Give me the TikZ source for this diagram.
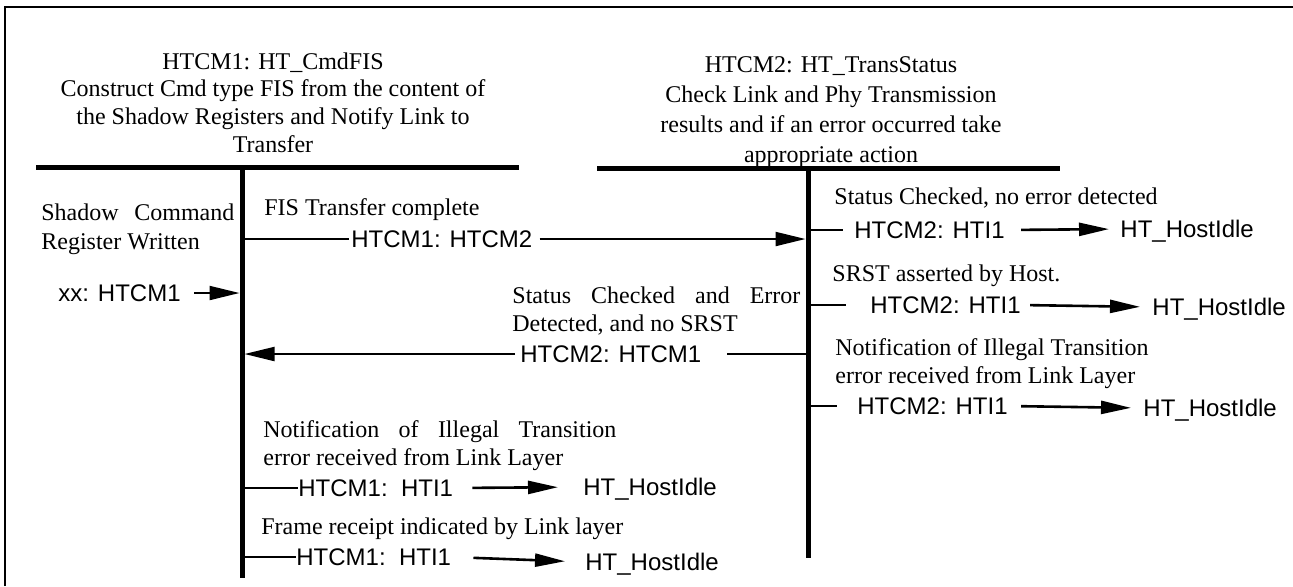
\documentclass[tikz,border=0pt]{standalone}
\usepackage{fontspec}
\setmainfont{Liberation Serif}
\setsansfont{Liberation Sans}
\usetikzlibrary{arrows.meta, calc}
\definecolor{darkline}{HTML}{000000}
\tikzset{
  txt/.style={inner sep=0pt, anchor=west, font=\fontsize{12}{13.8}\selectfont},
  jtxt/.style={txt, align=justify},
  ltxt/.style={txt, align=left},
  title/.style={inner sep=0pt, align=center, font=\fontsize{12}{13.8}\selectfont},
  lbl/.style={inner sep=0pt, anchor=west, font=\sffamily\fontsize{12}{14}\selectfont,
              text height=8.6pt, text depth=0pt},
  frame/.style={line width=1pt, draw=darkline},
  bar/.style={line width=2.5pt, draw=darkline},
  stub/.style={line width=1pt, draw=darkline},
  flow/.style={-{Triangle[length=15pt, width=7pt]}, line width=1pt, draw=darkline},
  exit/.style={-{Triangle[length=15pt, width=6.5pt]}, line width=1.3pt, draw=darkline},
}

\begin{document}
\begin{tikzpicture}[x=0.5pt, y=-0.5pt]
\useasboundingbox (0,0) rectangle (1293,586);

% Outer frame (runs off the page at right and bottom)
\draw[frame] (5,586) -- (5,7) -- (1293,7);

% State headers
\node[title] (titleL) at (273,102.5) {HTCM1: HT\_CmdFIS\\Construct Cmd type FIS from the content of\\the Shadow Registers and Notify Link to\\Transfer};
\node[title, font=\fontsize{12}{15}\selectfont] (titleR) at (831,112) {HTCM2: HT\_TransStatus\\Check Link and Phy Transmission\\results and if an error occurred take\\appropriate action};
\draw[bar] (36,167) -- (519,167);
\draw[bar] (597,168) -- (1060,168);

% Lifelines
\coordinate (lifeL) at (242,167);
\coordinate (lifeLend) at (242,578);
\coordinate (lifeR) at (808,168);
\coordinate (lifeRend) at (808,558);
\draw[bar] (lifeL) -- (lifeLend);
\draw[bar] (lifeR) -- (lifeRend);

% HTCM1 side
\node[jtxt, text width=96.5pt, font=\fontsize{12}{14.5}\selectfont] (shadowTxt) at (41,229) {Shadow Command\linebreak Register Written};
\node[lbl] (xxLbl) at (58,293) {xx: HTCM1};
\node[txt] (fisTxt) at (264,210) {FIS Transfer complete};
\node[lbl] (aLbl) at (351,239) {HTCM1: HTCM2};
\node[jtxt, text width=144pt] (errTxt) at (512,311) {Status Checked and Error\linebreak Detected, and no SRST};
\node[lbl] (bLbl) at (520,354) {HTCM2: HTCM1};
\node[jtxt, text width=176.5pt, font=\fontsize{12}{14}\selectfont] (illTxtL) at (263,446) {Notification of Illegal Transition\linebreak error received from Link Layer};
\node[lbl] (l1Lbl) at (298,488) {HTCM1:\ \ HTI1};
\node[lbl] (l1Idle) at (583,487) {HT\_HostIdle};
\node[txt] (frameTxt) at (261,529) {Frame receipt indicated by Link layer};
\node[lbl] (l2Lbl) at (296,557) {HTCM1:\ \ HTI1};
\node[lbl] (l2Idle) at (585,562) {HT\_HostIdle};

% HTCM2 side
\node[txt] (okTxt) at (834,198) {Status Checked, no error detected};
\node[lbl] (r1Lbl) at (854,230) {HTCM2: HTI1};
\node[lbl] (r1Idle) at (1120,229) {HT\_HostIdle};
\node[txt] (srstTxt) at (832,276) {SRST asserted by Host.};
\node[lbl] (r2Lbl) at (870,305) {HTCM2: HTI1};
\node[lbl] (r2Idle) at (1152,307) {HT\_HostIdle};
\node[ltxt, font=\fontsize{12}{14}\selectfont] (illTxtR) at (835,364) {Notification of Illegal Transition\\error received from Link Layer};
\node[lbl] (r3Lbl) at (857,406) {HTCM2: HTI1};
\node[lbl] (r3Idle) at (1143,408) {HT\_HostIdle};

% Transitions
\draw[flow, shorten >=1.25pt] (xxLbl.east) ++(6.5pt,0) -- (lifeL |- xxLbl);
\draw[stub, shorten >=1pt] (lifeL |- aLbl) -- (aLbl.west);
\draw[flow, shorten <=3.5pt, shorten >=1.25pt] (aLbl.east) -- (lifeR |- aLbl);
\draw[stub, shorten >=12.5pt] (lifeR |- bLbl) -- (bLbl.east);
\draw[flow, shorten <=2.5pt, shorten >=1.25pt] (bLbl.west) -- (lifeL |- bLbl);

\draw[stub] (lifeL |- l1Lbl) -- (l1Lbl.west);
\draw[exit, shorten <=9.5pt, shorten >=12.5pt] (l1Lbl.east) -- (l1Idle.west);
\draw[stub] (lifeL |- l2Lbl) -- (l2Lbl.west);
\draw[exit, shorten <=11pt, shorten >=10pt] (l2Lbl.east) -- (l2Idle.west);

\draw[stub, shorten >=5.5pt] (lifeR |- r1Lbl) -- (r1Lbl.west);
\draw[exit, shorten <=8pt, shorten >=5.5pt] (r1Lbl.east) -- (r1Idle.west);
\draw[stub, shorten >=12pt] (lifeR |- r2Lbl) -- (r2Lbl.west);
\draw[exit, shorten <=4.5pt, shorten >=6pt] (r2Lbl.east) -- (r2Idle.west);
\draw[stub, shorten >=10pt] (lifeR |- r3Lbl) -- (r3Lbl.west);
\draw[exit, shorten <=6.5pt, shorten >=6pt] (r3Lbl.east) -- (r3Idle.west);

\end{tikzpicture}
\end{document}
